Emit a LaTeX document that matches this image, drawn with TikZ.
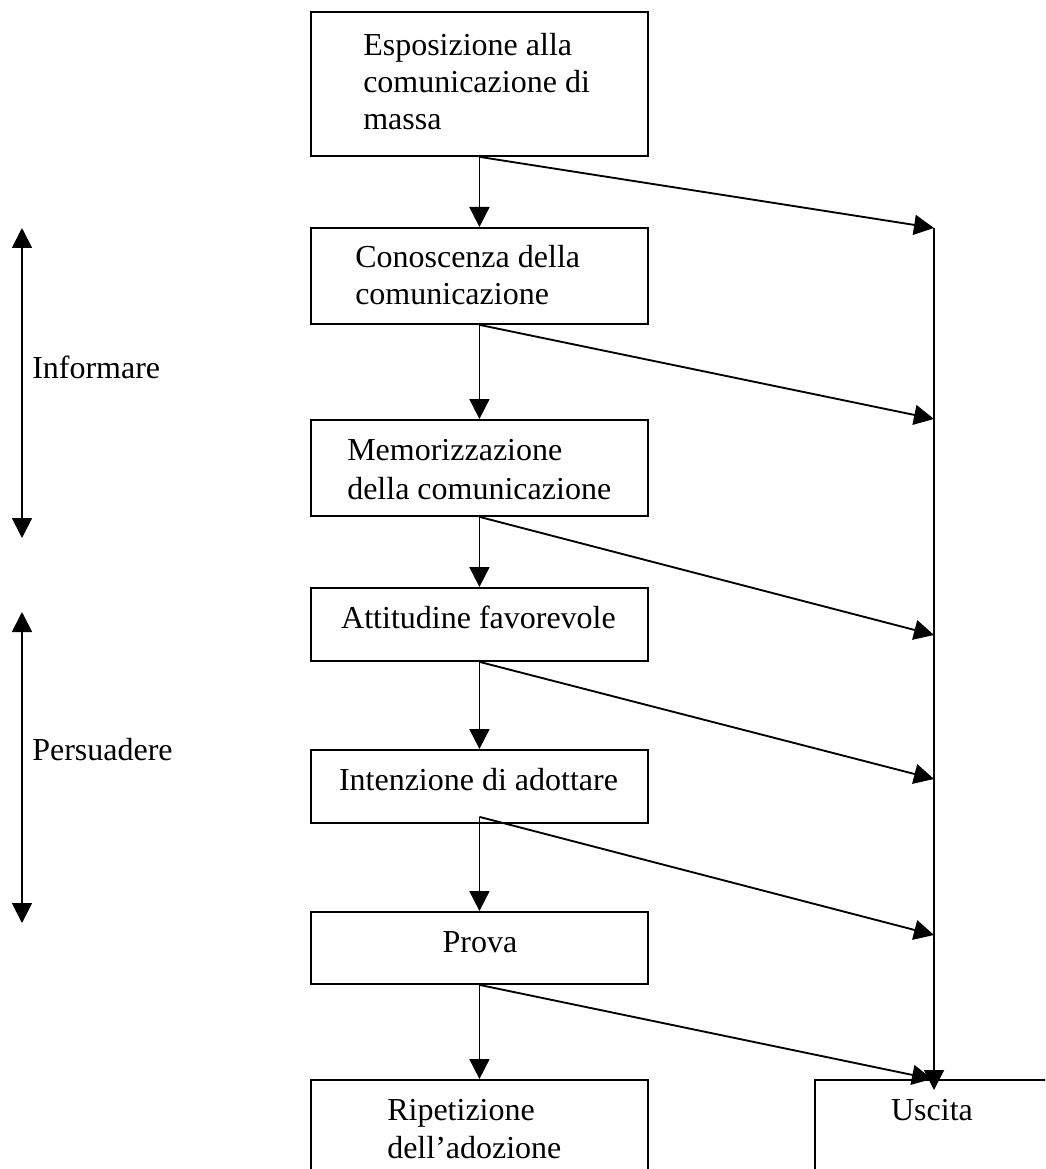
\documentclass[tikz,border=0pt]{standalone}
\usepackage{fontspec}
\setmainfont{Liberation Serif}
\usetikzlibrary{arrows.meta}
\newdimen\pxu \pxu=0.75pt
\begin{document}
\begin{tikzpicture}[x=0.75pt,y=-0.75pt,
  box/.style={draw, line width=1.4pt, minimum width=337\pxu, inner sep=0pt, anchor=north west},
  lbl/.style={font=\fontsize{24}{26.5}\selectfont, inner sep=0pt},
  arr/.style={line width=1.4pt, -{Triangle[length=15pt,width=15pt]}},
  darr/.style={line width=1.4pt, {Triangle[length=15pt,width=15pt]}-{Triangle[length=15pt,width=15pt]}}]
\clip (0,0) rectangle (1045,1169);
\fill[white] (0,0) rectangle (1045,1169);
% boxes
\node[box, minimum height=144\pxu] (b1) at (310,11) {};
\node[box, minimum height=96\pxu] (b2) at (310,227) {};
\node[box, minimum height=96\pxu] (b3) at (310,419) {};
\node[box, minimum height=73\pxu] (b4) at (310,587) {};
\node[box, minimum height=73\pxu] (b5) at (310,749) {};
\node[box, minimum height=72\pxu] (b6) at (310,911) {};
\node[box, minimum height=110\pxu] (b7) at (310,1079) {};
\node[box, minimum height=110\pxu, minimum width=236\pxu] (b8) at (814,1079) {};
% texts
\node[lbl, anchor=base west] (t1a) at (363,56) {Esposizione alla};
\node[lbl, anchor=base west] (t1b) at (363,93) {comunicazione di};
\node[lbl, anchor=base west] (t1c) at (363,130) {massa};
\node[lbl, anchor=base west] (t2a) at (355,268) {Conoscenza della};
\node[lbl, anchor=base west] (t2b) at (355,305) {comunicazione};
\node[lbl, anchor=base west] (t3a) at (347,460) {Memorizzazione};
\node[lbl, anchor=base west] (t3b) at (347,499) {della comunicazione};
\node[lbl, anchor=base] (t4) at (478.5,628) {Attitudine favorevole};
\node[lbl, anchor=base] (t5) at (478.5,790) {Intenzione di adottare};
\node[lbl, anchor=base] (t6) at (480,952) {Prova};
\node[lbl, anchor=base west] (t7a) at (387,1120) {Ripetizione};
\node[lbl, anchor=base west] (t7b) at (387,1158) {dell’adozione};
\node[lbl, anchor=base] (t8) at (932,1120) {Uscita};
\node[lbl, anchor=base west] (inf) at (32,378) {Informare};
\node[lbl, anchor=base west] (per) at (32,760) {Persuadere};
% coordinates on the exit line
\coordinate (e1) at (934,228);
\coordinate (e2) at (934,419);
\coordinate (e3) at (934,635);
\coordinate (e4) at (934,779);
\coordinate (e5) at (934,935);
\coordinate (e6) at (932,1079);
\coordinate (vend) at (934,1090);
% left double arrows
\coordinate (i1) at (22,228);
\coordinate (i2) at (22,538);
\coordinate (p1) at (22,612);
\coordinate (p2) at (22,923);
% main flow
\draw[arr] (b1.south) -- (b2.north);
\draw[arr] (b2.south) -- (b3.north);
\draw[arr] (b3.south) -- (b4.north);
\draw[arr] (b4.south) -- (b5.north);
\draw[arr] ([yshift=5.25pt]b5.south) -- (b6.north);
\draw[arr] (b6.south) -- (b7.north);
% exits
\draw[arr] (b1.south) -- (e1);
\draw[arr] (b2.south) -- (e2);
\draw[arr] (b3.south) -- (e3);
\draw[arr] (b4.south) -- (e4);
\draw[arr] ([yshift=5.25pt]b5.south) -- (e5);
\draw[arr] (b6.south) -- (e6);
\draw[arr] (e1) -- (vend);
% phases
\draw[darr] (i1) -- (i2);
\draw[darr] (p1) -- (p2);
\end{tikzpicture}
\end{document}
